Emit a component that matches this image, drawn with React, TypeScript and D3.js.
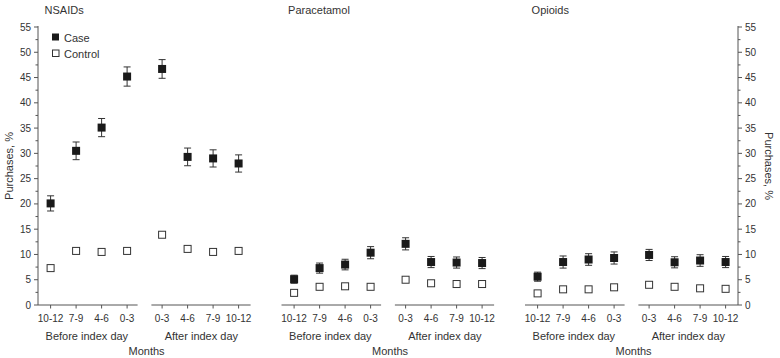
import React from "react";
import * as d3 from "d3";

const beforeLabels = ["10-12", "7-9", "4-6", "0-3"];
const afterLabels = ["0-3", "4-6", "7-9", "10-12"];
const drugNames = ["NSAIDs", "Paracetamol", "Opioids"];

// values ordered: before 10-12, 7-9, 4-6, 0-3, after 0-3, 4-6, 7-9, 10-12
const nsaidCase = [20.1, 30.5, 35.1, 45.2, 46.7, 29.3, 29.0, 28.0];
const nsaidCaseErr = [1.5, 1.75, 1.8, 1.9, 1.85, 1.75, 1.7, 1.7];
const nsaidControl = [7.3, 10.7, 10.5, 10.7, 13.9, 11.1, 10.5, 10.7];

const paraCase = [5.1, 7.3, 8.0, 10.35, 12.1, 8.5, 8.4, 8.3];
const paraCaseErr = [0.8, 1.0, 1.05, 1.2, 1.2, 1.1, 1.1, 1.1];
const paraControl = [2.4, 3.6, 3.7, 3.6, 5.0, 4.3, 4.15, 4.15];

const opioCase = [5.6, 8.5, 9.0, 9.3, 9.9, 8.45, 8.8, 8.5];
const opioCaseErr = [0.9, 1.2, 1.15, 1.2, 1.1, 1.1, 1.15, 1.1];
const opioControl = [2.3, 3.1, 3.1, 3.5, 4.0, 3.6, 3.3, 3.2];

const yTicks = [0, 5, 10, 15, 20, 25, 30, 35, 40, 45, 50, 55];
const yMinor = d3.range(2.5, 55, 5);

const panels = [
  { name: drugNames[0], caseV: nsaidCase, err: nsaidCaseErr, ctrl: nsaidControl },
  { name: drugNames[1], caseV: paraCase, err: paraCaseErr, ctrl: paraControl },
  { name: drugNames[2], caseV: opioCase, err: opioCaseErr, ctrl: opioControl },
];

const TEXT = "#333";
const AXIS = "#555";
const FONT = "Liberation Sans, Arial, sans-serif";

export default function App() {
  const W = 780;
  const H = 358;
  const y = d3.scaleLinear().domain([0, 55]).range([305, 27]);
  const leftX = 38;
  const rightX = 738;
  const panelX = d3.scaleLinear().domain([0, 2]).range([50.6, 537.6]);
  const xB = d3.scalePoint<string>().domain(beforeLabels).range([0, 76.5]);
  const xA = d3.scalePoint<string>().domain(afterLabels).range([111.5, 188]);
  const pos = (i: number) => (i < 4 ? xB(beforeLabels[i])! : xA(afterLabels[i - 4])!);
  const ms = 8;

  return (
    <svg width={W} height={H} style={{ position: "absolute", left: 0, top: 0 }} fontFamily={FONT}>
      <rect width={W} height={H} fill="#fff" />
      {/* left axis */}
      <line x1={leftX} x2={leftX} y1={y(55) - 1} y2={y(0)} stroke={AXIS} strokeWidth={1} />
      {yTicks.map((t) => (
        <g key={"l" + t}>
          <line x1={leftX - 4} x2={leftX} y1={y(t)} y2={y(t)} stroke={AXIS} />
          <text x={leftX - 7} y={y(t) + 3.5} textAnchor="end" fontSize={10} fill={TEXT}>
            {t}
          </text>
        </g>
      ))}
      {yMinor.map((t) => (
        <line key={"lm" + t} x1={leftX - 2.5} x2={leftX} y1={y(t)} y2={y(t)} stroke={AXIS} />
      ))}
      {/* right axis */}
      <line x1={rightX} x2={rightX} y1={y(55) - 1} y2={y(0)} stroke={AXIS} strokeWidth={1} />
      {yTicks.map((t) => (
        <g key={"r" + t}>
          <line x1={rightX} x2={rightX + 4} y1={y(t)} y2={y(t)} stroke={AXIS} />
          <text x={rightX + 7} y={y(t) + 3.5} textAnchor="start" fontSize={10} fill={TEXT}>
            {t}
          </text>
        </g>
      ))}
      {yMinor.map((t) => (
        <line key={"rm" + t} x1={rightX} x2={rightX + 2.5} y1={y(t)} y2={y(t)} stroke={AXIS} />
      ))}
      <text transform={`translate(13,${y(27.5)}) rotate(-90)`} textAnchor="middle" fontSize={11} fill={TEXT}>
        Purchases, %
      </text>
      <text transform={`translate(765,${y(27.5)}) rotate(90)`} textAnchor="middle" fontSize={11} fill={TEXT}>
        Purchases, %
      </text>

      {panels.map((p, pi) => {
        const ox = panelX(pi);
        const bStart = ox + xB(beforeLabels[0])! - 12.6;
        const bEnd = ox + xB(beforeLabels[3])! + 10.5;
        const aStart = ox + xA(afterLabels[0])! - 10.7;
        const aEnd = pi === 2 ? rightX : ox + xA(afterLabels[3])! + 12;
        const bMid = ox + (xB(beforeLabels[0])! + xB(beforeLabels[3])!) / 2;
        const aMid = ox + (xA(afterLabels[0])! + xA(afterLabels[3])!) / 2;
        return (
          <g key={p.name}>
            <text x={ox - 6} y={14} fontSize={11} fill={TEXT}>
              {p.name}
            </text>
            <line x1={bStart} x2={bEnd} y1={y(0)} y2={y(0)} stroke={AXIS} />
            <line x1={aStart} x2={aEnd} y1={y(0)} y2={y(0)} stroke={AXIS} />
            {beforeLabels.map((l, i) => (
              <g key={"b" + i}>
                <line x1={ox + pos(i)} x2={ox + pos(i)} y1={y(0)} y2={y(0) + 3.5} stroke={AXIS} />
                <text x={ox + pos(i)} y={322} textAnchor="middle" fontSize={10} fill={TEXT}>
                  {l}
                </text>
              </g>
            ))}
            {afterLabels.map((l, i) => (
              <g key={"a" + i}>
                <line x1={ox + pos(i + 4)} x2={ox + pos(i + 4)} y1={y(0)} y2={y(0) + 3.5} stroke={AXIS} />
                <text x={ox + pos(i + 4)} y={322} textAnchor="middle" fontSize={10} fill={TEXT}>
                  {l}
                </text>
              </g>
            ))}
            <text x={bMid - 2} y={339.5} textAnchor="middle" fontSize={11} fill={TEXT}>
              Before index day
            </text>
            <text x={aMid + 1} y={339.5} textAnchor="middle" fontSize={11} fill={TEXT}>
              After index day
            </text>
            <text x={ox + 96} y={355} textAnchor="middle" fontSize={11} fill={TEXT}>
              Months
            </text>
            {/* error bars */}
            {p.caseV.map((v, i) => {
              const cx = ox + pos(i);
              const e = p.err[i];
              return (
                <g key={"e" + i} stroke="#333" strokeWidth={1}>
                  <line x1={cx} x2={cx} y1={y(v + e)} y2={y(v - e)} />
                  <line x1={cx - 3.5} x2={cx + 3.5} y1={y(v + e)} y2={y(v + e)} />
                  <line x1={cx - 3.5} x2={cx + 3.5} y1={y(v - e)} y2={y(v - e)} />
                </g>
              );
            })}
            {p.ctrl.map((v, i) => (
              <rect
                key={"c" + i}
                x={ox + pos(i) - ms / 2 + 0.5}
                y={y(v) - ms / 2 + 0.5}
                width={ms - 1}
                height={ms - 1}
                fill="#fff"
                stroke="#333"
                strokeWidth={1}
              />
            ))}
            {p.caseV.map((v, i) => (
              <rect
                key={"k" + i}
                x={ox + pos(i) - ms / 2}
                y={y(v) - ms / 2}
                width={ms}
                height={ms}
                fill="#1a1a1a"
              />
            ))}
          </g>
        );
      })}

      {/* legend */}
      <rect x={52} y={33.5} width={7} height={7} fill="#1a1a1a" />
      <text x={64} y={41.5} fontSize={11} fill={TEXT}>
        Case
      </text>
      <rect x={52.5} y={50} width={6.5} height={6.5} fill="#fff" stroke="#333" />
      <text x={64} y={57.5} fontSize={11} fill={TEXT}>
        Control
      </text>
    </svg>
  );
}
